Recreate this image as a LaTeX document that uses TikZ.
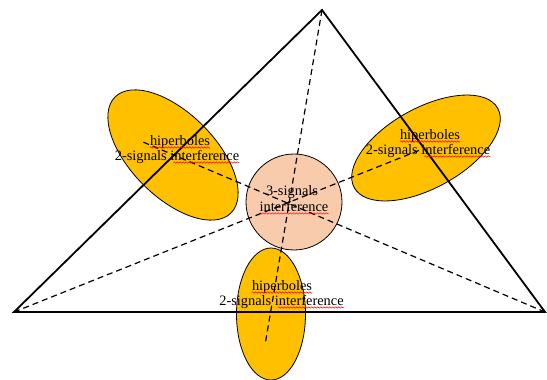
\documentclass[tikz,border=0pt]{standalone}
\usepackage{fontspec}
\setmainfont{Liberation Serif}
\usetikzlibrary{shapes.geometric,decorations.pathmorphing}
\definecolor{gold}{HTML}{FFC000}
\definecolor{peach}{HTML}{F8CBAD}
\begin{document}
\begin{tikzpicture}[x=1pt,y=-1pt,
  lobe/.style={ellipse,draw=black,line width=0.8pt,fill=gold,inner sep=0pt},
  core/.style={circle,draw=black,line width=0.8pt,fill=peach,inner sep=0pt},
  edge/.style={line width=1.8pt,line join=miter},
  ray/.style={line width=1.2pt,dash pattern=on 6pt off 4pt},
  lbl/.style={anchor=base,font=\fontsize{14.4}{16}\selectfont,inner sep=0pt},
  wavy/.style={red,line width=0.5pt,decorate,decoration={snake,amplitude=0.7pt,segment length=3pt}}]
\useasboundingbox (0,0) rectangle (547,380);
\node[lobe,minimum width=164pt,minimum height=84pt,rotate=-45] (L) at (173,155) {};
\node[lobe,minimum width=164pt,minimum height=80pt,rotate=29] (R) at (426,148) {};
\node[lobe,minimum width=69pt,minimum height=132pt] (B) at (271,314) {};
\node[core,minimum size=96pt] (C) at (294,202) {};
\coordinate (T) at (322,10);
\coordinate (A) at (14,312);
\coordinate (Z) at (545,312);
\coordinate (te) at (265,345);
\coordinate (ae) at (420,150);
\coordinate (ze) at (143,142);
\draw[edge] (T) -- (A) -- (Z) -- cycle;
\draw[ray] (T) -- (te);
\draw[ray] (A) -- (ae);
\draw[ray] (Z) -- (ze);
% left lobe text
\node[lbl] (L1) at (180,145) {hiperboles};
\node[lbl] (L2) at (177,160) {2-signals interference};
% right lobe text
\node[lbl] (R1) at (430,139) {hiperboles};
\node[lbl] (R2) at (428,154) {2-signals interference};
% centre text
\node[lbl] (C1) at (292,195) {3-signals};
\node[lbl] (C2) at (294,211) {interference};
% bottom lobe text
\node[lbl] (B1) at (282,290) {hiperboles};
\node[lbl] (B2) at (281.5,305) {2-signals interference};
% spelling marks
\foreach \n in {L1,R1,B1,C2}
  \draw[wavy] ([yshift=-2.5pt]\n.base west) -- ([yshift=-2.5pt]\n.base east);
\foreach \n in {L2,R2,B2}
  \draw[wavy] ([xshift=-66pt,yshift=-2.5pt]\n.base east) -- ([yshift=-2.5pt]\n.base east);
\end{tikzpicture}
\end{document}
